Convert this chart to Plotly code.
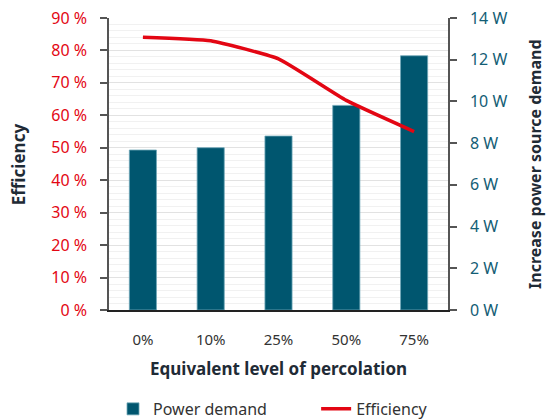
import plotly.graph_objects as go

# Percolation levels and measured values
levels = ["0%", "10%", "25%", "50%", "75%"]
power_demand_w = [7.67, 7.78, 8.34, 9.81, 12.19]
efficiency_pct = [84.1, 83.0, 77.4, 64.6, 55.0]

# Axis ticks and their labels
eff_ticks = list(range(0, 91, 10))
eff_labels = [f"{v} %" for v in eff_ticks]
power_ticks = list(range(0, 15, 2))
power_labels = [f"{v} W" for v in power_ticks]

FONT = "Noto Sans"
RED = "#e30613"
TEAL = "#00566f"
TITLE_COLOR = "#1f2b36"

fig = go.Figure()

# Power demand on the base (right-hand) axis so the efficiency line sits on top
fig.add_trace(go.Bar(
    x=levels, y=power_demand_w, name="Power demand", yaxis="y", legend="legend",
    marker=dict(color=TEAL, line=dict(color="#6fa7b7", width=0.8)),
))

fig.add_trace(go.Scatter(
    x=levels, y=efficiency_pct, name="Efficiency", yaxis="y2", legend="legend2",
    mode="lines", line=dict(color=RED, width=3.5, shape="spline", smoothing=0.4),
))

legend_style = dict(
    orientation="h", xref="container", yref="container",
    xanchor="left", y=0.024, yanchor="middle",
    font=dict(size=16, color="#333333"), bgcolor="rgba(0,0,0,0)",
)

fig.update_layout(
    width=546, height=419,
    margin=dict(l=109, r=98, t=18, b=109, autoexpand=False),
    paper_bgcolor="white", plot_bgcolor="white",
    font=dict(family=FONT, size=15, color="#333333"),
    bargap=0.6,
    showlegend=True,
    legend=dict(x=0.207, **legend_style),
    legend2=dict(x=0.579, **legend_style),
    xaxis=dict(
        type="category", showline=True, linecolor="#222222", linewidth=1.5,
        ticks="", showgrid=False, ticklabelstandoff=15,
        tickfont=dict(size=15, color="#333333"),
    ),
    yaxis=dict(
        range=[0, 14], tickmode="array", tickvals=power_ticks, ticktext=power_labels,
        side="right",
        tickfont=dict(size=16, color="#135d75"),
        showline=True, linecolor="#555555", linewidth=1.5,
        ticks="outside", ticklen=7, tickcolor="#555555", tickwidth=1.5,
        ticklabelstandoff=10,
        showgrid=False, zeroline=False,
    ),
    yaxis2=dict(
        range=[0, 90], tickmode="array", tickvals=eff_ticks, ticktext=eff_labels,
        overlaying="y", side="left",
        tickfont=dict(size=16, color=RED),
        showline=True, linecolor="#555555", linewidth=1.5,
        ticks="outside", ticklen=7, tickcolor="#555555", tickwidth=1.5,
        ticklabelstandoff=10,
        showgrid=True, gridcolor="#e2e2e2", gridwidth=1,
        minor=dict(dtick=2, showgrid=True, gridcolor="#f1f1f1", gridwidth=1),
        zeroline=False,
    ),
    annotations=[
        dict(text="<b>Equivalent level of percolation</b>", xref="paper", yref="paper",
             x=0.5, y=-0.199, xanchor="center", yanchor="middle", showarrow=False,
             font=dict(size=17, color=TITLE_COLOR)),
        dict(text="<b>Efficiency</b>", xref="paper", yref="paper",
             x=-0.268, y=0.5, xanchor="center", yanchor="middle", textangle=-90,
             showarrow=False, font=dict(size=17, color=TITLE_COLOR)),
        dict(text="<b>Increase power source demand</b>", xref="paper", yref="paper",
             x=1.2566, y=0.5, xanchor="center", yanchor="middle", textangle=-90,
             showarrow=False, font=dict(size=16, color=TITLE_COLOR)),
    ],
)

fig.write_html("out.html")
